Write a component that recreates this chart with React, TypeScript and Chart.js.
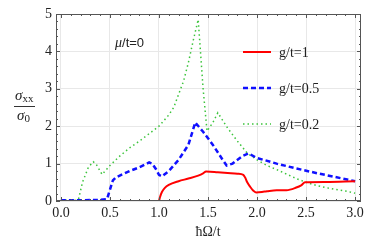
import React, { useEffect, useRef } from "react";
import { Chart, registerables } from "chart.js";

Chart.register(...registerables);

// g/t = 1 (red, solid)
const redX = [0, 0.5, 0.99, 1.0, 1.01, 1.03, 1.06, 1.1, 1.2, 1.3, 1.4, 1.45, 1.48, 1.6, 1.7, 1.8, 1.86, 1.88, 1.9, 1.93, 1.96, 1.99, 2.05, 2.1, 2.2, 2.3, 2.4, 2.45, 2.49, 2.7, 3.0];
const redY = [0, 0, 0, 0.01, 0.1, 0.24, 0.35, 0.43, 0.53, 0.6, 0.68, 0.74, 0.79, 0.77, 0.75, 0.73, 0.7, 0.62, 0.5, 0.38, 0.28, 0.23, 0.24, 0.26, 0.29, 0.29, 0.36, 0.42, 0.5, 0.51, 0.53];

// g/t = 0.5 (blue, dashed)
const blueX = [0, 0.2, 0.4, 0.47, 0.5, 0.53, 0.56, 0.6, 0.7, 0.8, 0.9, 0.93, 0.97, 1.0, 1.03, 1.1, 1.2, 1.3, 1.37, 1.45, 1.55, 1.65, 1.69, 1.75, 1.85, 1.91, 2.0, 2.2, 2.4, 2.6, 2.8, 3.0];
const blueY = [0.02, 0.02, 0.03, 0.05, 0.3, 0.55, 0.63, 0.68, 0.8, 0.9, 1.03, 1.0, 0.85, 0.7, 0.66, 0.8, 1.1, 1.5, 2.1, 1.85, 1.5, 1.1, 0.95, 1.0, 1.2, 1.27, 1.15, 1.0, 0.87, 0.75, 0.64, 0.53];

// g/t = 0.2 (green, dotted)
const greenX = [0, 0.15, 0.18, 0.22, 0.28, 0.33, 0.36, 0.42, 0.5, 0.6, 0.7, 0.8, 0.9, 1.0, 1.1, 1.15, 1.25, 1.3, 1.35, 1.4, 1.45, 1.49, 1.55, 1.6, 1.7, 1.8, 1.9, 2.0, 2.1, 2.2, 2.3, 2.4, 2.5, 2.6, 2.7, 2.8, 2.9, 3.0];
const greenY = [0.02, 0.02, 0.05, 0.5, 0.9, 1.05, 0.98, 0.71, 0.95, 1.2, 1.42, 1.6, 1.8, 2.0, 2.3, 2.5, 3.2, 3.7, 4.3, 4.85, 3.0, 1.87, 2.1, 2.36, 1.95, 1.6, 1.28, 1.1, 0.95, 0.84, 0.72, 0.6, 0.5, 0.42, 0.36, 0.31, 0.27, 0.21];

const xTicks = [0, 0.5, 1.0, 1.5, 2.0, 2.5, 3.0];
const yTicks = [0, 1, 2, 3, 4, 5];
const legendLabels = ["g/t=1", "g/t=0.5", "g/t=0.2"];

const RED = "#ff0000";
const BLUE = "#1010ff";
const GREEN = "#3cc43c";
const SERIF = "'Liberation Serif', 'DejaVu Serif', serif";

const toPts = (xs: number[], ys: number[]) => xs.map((x, i) => ({ x, y: ys[i] }));

const decorPlugin = {
  id: "decor",
  afterDraw(chart: any) {
    const { ctx, chartArea: a, scales } = chart;
    const xs = scales.x;
    const ys = scales.y;
    ctx.save();
    // frame
    ctx.strokeStyle = "#555";
    ctx.lineWidth = 1;
    ctx.strokeRect(a.left + 0.5, a.top + 0.5, a.right - a.left - 1, a.bottom - a.top - 1);
    // inward ticks
    ctx.beginPath();
    for (let i = 0; i <= 30; i++) {
      const v = i / 10;
      const px = Math.round(xs.getPixelForValue(v)) + 0.5;
      const len = i % 5 === 0 ? 4 : 2;
      ctx.moveTo(px, a.bottom);
      ctx.lineTo(px, a.bottom - len);
      ctx.moveTo(px, a.top);
      ctx.lineTo(px, a.top + len);
    }
    for (let i = 0; i <= 25; i++) {
      const v = i / 5;
      const py = Math.round(ys.getPixelForValue(v)) + 0.5;
      const len = i % 5 === 0 ? 4 : 2;
      ctx.moveTo(a.left, py);
      ctx.lineTo(a.left + len, py);
      ctx.moveTo(a.right, py);
      ctx.lineTo(a.right - len, py);
    }
    ctx.stroke();

    // legend
    const styles = [
      { c: RED, w: 2, d: [] as number[] },
      { c: BLUE, w: 2.5, d: [5, 3] },
      { c: GREEN, w: 1.5, d: [1.5, 3] },
    ];
    const ly = [52, 88, 124];
    styles.forEach((s, i) => {
      ctx.beginPath();
      ctx.strokeStyle = s.c;
      ctx.lineWidth = s.w;
      ctx.setLineDash(s.d);
      ctx.moveTo(243, ly[i]);
      ctx.lineTo(271, ly[i]);
      ctx.stroke();
      ctx.setLineDash([]);
      ctx.fillStyle = "#222";
      ctx.font = `14px ${SERIF}`;
      ctx.textAlign = "left";
      ctx.textBaseline = "middle";
      ctx.fillText(legendLabels[i], 279, ly[i] + 1);
    });

    // mu annotation
    ctx.fillStyle = "#222";
    ctx.textBaseline = "middle";
    ctx.textAlign = "left";
    ctx.font = `italic 14px ${SERIF}`;
    ctx.fillText("\u03bc", 115, 43);
    const mw = ctx.measureText("\u03bc").width;
    ctx.font = `13px 'Liberation Sans', Arial, sans-serif`;
    ctx.fillText("/t=0", 115 + mw, 43);

    // x-axis title
    ctx.font = `14px ${SERIF}`;
    ctx.textAlign = "center";
    ctx.fillText("\u0127\u03a9/t", 208, 232);

    // y-axis title (fraction)
    ctx.font = `italic 15px ${SERIF}`;
    ctx.textAlign = "left";
    const sw = ctx.measureText("\u03c3").width;
    ctx.fillText("\u03c3", 15, 96);
    ctx.font = `11px ${SERIF}`;
    ctx.fillText("xx", 15 + sw, 99);
    ctx.beginPath();
    ctx.strokeStyle = "#333";
    ctx.lineWidth = 1;
    ctx.moveTo(14, 106.5);
    ctx.lineTo(35, 106.5);
    ctx.stroke();
    ctx.font = `italic 15px ${SERIF}`;
    ctx.fillText("\u03c3", 17, 116);
    ctx.font = `11px ${SERIF}`;
    ctx.fillText("0", 17 + sw, 119);
    ctx.restore();
  },
};

export default function App() {
  const ref = useRef<HTMLCanvasElement | null>(null);
  useEffect(() => {
    document.body.style.margin = "0";
    const chart = new Chart(ref.current!, {
      type: "line",
      data: {
        datasets: [
          {
            label: legendLabels[0],
            data: toPts(redX, redY),
            borderColor: RED,
            borderWidth: 2,
            pointRadius: 0,
            cubicInterpolationMode: "monotone",
            order: 1,
          },
          {
            label: legendLabels[1],
            data: toPts(blueX, blueY),
            borderColor: BLUE,
            borderWidth: 2.5,
            borderDash: [5, 3],
            pointRadius: 0,
            tension: 0,
            order: 2,
          },
          {
            label: legendLabels[2],
            data: toPts(greenX, greenY),
            borderColor: GREEN,
            borderWidth: 1.5,
            borderDash: [1.5, 3],
            pointRadius: 0,
            tension: 0,
            order: 3,
          },
        ],
      },
      options: {
        animation: false,
        responsive: false,
        maintainAspectRatio: false,
        layout: { padding: { left: 0, top: 14, right: 13, bottom: 0 } },
        plugins: { legend: { display: false }, tooltip: { enabled: false } },
        scales: {
          x: {
            type: "linear",
            min: -0.05,
            max: 3.06,
            afterBuildTicks: (s: any) => {
              s.ticks = xTicks.map((v) => ({ value: v }));
            },
            afterFit: (s: any) => {
              s.height = 48;
            },
            ticks: {
              color: "#222",
              font: { family: SERIF, size: 14 },
              padding: 4,
              maxRotation: 0,
              callback: (v: any) => Number(v).toFixed(1),
            },
            grid: { color: "#e8e8e8", drawTicks: false },
            border: { display: false },
          },
          y: {
            type: "linear",
            min: 0,
            max: 5,
            afterBuildTicks: (s: any) => {
              s.ticks = yTicks.map((v) => ({ value: v }));
            },
            afterFit: (s: any) => {
              s.width = 56;
            },
            ticks: {
              color: "#222",
              font: { family: SERIF, size: 14 },
              padding: 4,
              callback: (v: any) => String(v),
            },
            grid: { color: "#e8e8e8", drawTicks: false },
            border: { display: false },
          },
        },
      },
      plugins: [decorPlugin],
    });
    return () => chart.destroy();
  }, []);
  return (
    <div style={{ width: 374, height: 249, background: "#fff" }}>
      <canvas ref={ref} width={374} height={249} style={{ display: "block" }} />
    </div>
  );
}
